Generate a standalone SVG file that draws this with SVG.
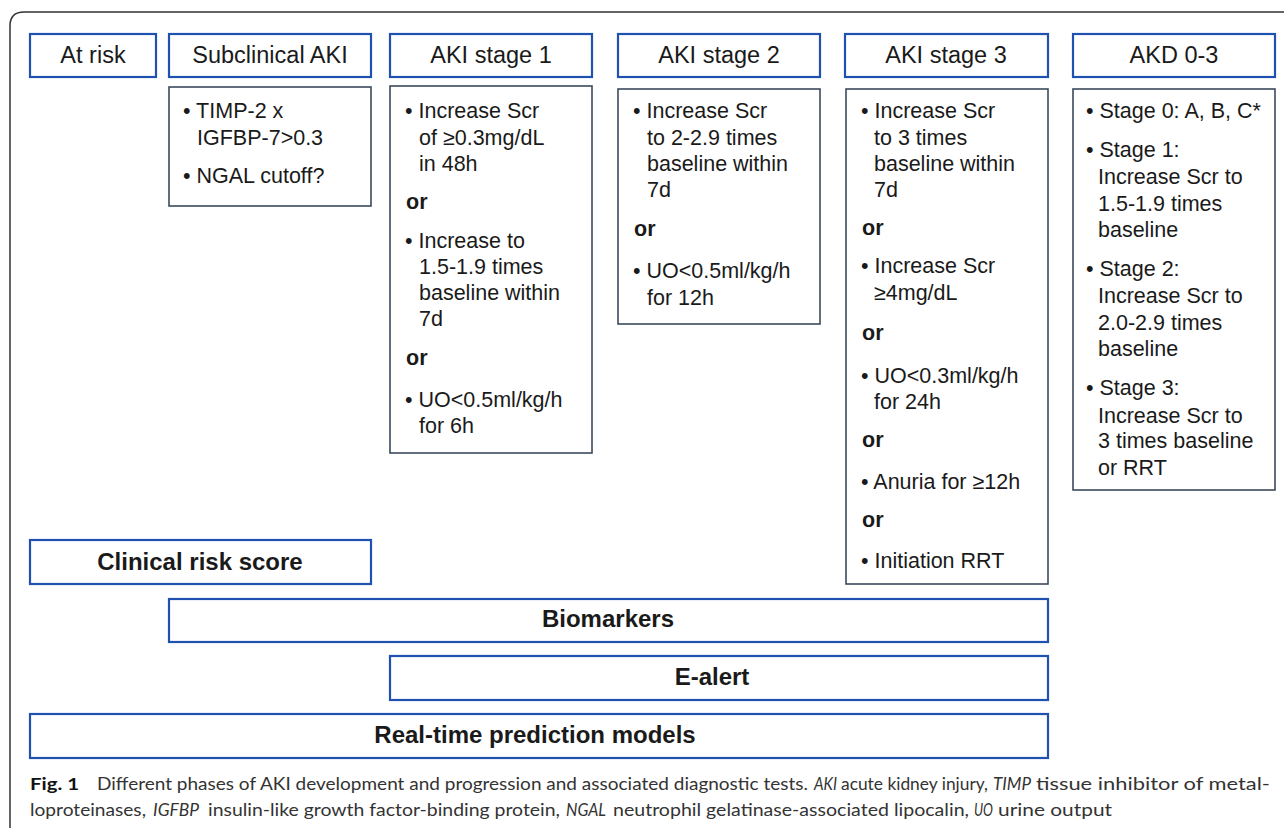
<svg xmlns="http://www.w3.org/2000/svg" width="1284" height="828" viewBox="0 0 1284 828">
<style>
.hdr{fill:#fff;stroke:#1f52b0;stroke-width:2.2}
.box{fill:#fff;stroke:#3b4a5c;stroke-width:1.6}
.bar{fill:#fff;stroke:#1f52b0;stroke-width:2.2}
.ht{font-family:"Liberation Sans",Arial,sans-serif;font-size:23.5px;fill:#1a1a1a;text-anchor:middle}
.t{font-family:"Liberation Sans",Arial,sans-serif;font-size:21.5px;fill:#1a1a1a}
.bt{font-family:"Liberation Sans",Arial,sans-serif;font-size:24px;font-weight:bold;fill:#1a1a1a;text-anchor:middle}
.cap{font-family:Lato,"Noto Sans",sans-serif;font-size:17.5px;fill:#333}
.capb{font-family:Lato,"Noto Sans",sans-serif;font-size:17.5px;fill:#111;font-weight:bold}
.capi{font-family:Lato,"Noto Sans",sans-serif;font-size:17.5px;fill:#333;font-style:italic}
</style>
<rect width="1284" height="828" fill="#fff"/>
<path d="M10,840 L10,26 Q10,12 24,12 L1300,12" fill="none" stroke="#333" stroke-width="1.5"/>

<g id="at-risk"><rect class="hdr" x="30" y="34" width="126" height="43"/><text class="ht" x="93" y="63">At risk</text></g>
<g id="subclinical"><rect class="hdr" x="169" y="34" width="202" height="43"/><text class="ht" x="270" y="63">Subclinical AKI</text>
<rect class="box" x="169" y="87" width="202" height="119"/>
<text class="t"><tspan x="183" y="118">• TIMP-2 x</tspan><tspan x="197" y="145">IGFBP-7&gt;0.3</tspan><tspan x="183" y="183">• NGAL cutoff?</tspan></text></g>

<g id="aki1"><rect class="hdr" x="390" y="34" width="202" height="43"/><text class="ht" x="491" y="63">AKI stage 1</text>
<rect class="box" x="390" y="86" width="202" height="367"/>
<text class="t"><tspan x="405" y="118">• Increase Scr</tspan><tspan x="419" y="145">of ≥0.3mg/dL</tspan><tspan x="419" y="171">in 48h</tspan><tspan x="406" y="209" font-weight="bold">or</tspan><tspan x="405" y="248">• Increase to</tspan><tspan x="419" y="274">1.5-1.9 times</tspan><tspan x="419" y="300">baseline within</tspan><tspan x="419" y="326">7d</tspan><tspan x="406" y="365" font-weight="bold">or</tspan><tspan x="405" y="407">• UO&lt;0.5ml/kg/h</tspan><tspan x="419" y="433">for 6h</tspan></text></g>

<g id="aki2"><rect class="hdr" x="618" y="34" width="202" height="43"/><text class="ht" x="719" y="63">AKI stage 2</text>
<rect class="box" x="618" y="89" width="202" height="235"/>
<text class="t"><tspan x="633" y="118">• Increase Scr</tspan><tspan x="647" y="145">to 2-2.9 times</tspan><tspan x="647" y="171">baseline within</tspan><tspan x="647" y="197">7d</tspan><tspan x="634" y="236" font-weight="bold">or</tspan><tspan x="633" y="278">• UO&lt;0.5ml/kg/h</tspan><tspan x="647" y="305">for 12h</tspan></text></g>

<g id="aki3"><rect class="hdr" x="845" y="34" width="203" height="43"/><text class="ht" x="946" y="63">AKI stage 3</text>
<rect class="box" x="846" y="89" width="202" height="495"/>
<text class="t"><tspan x="861" y="118">• Increase Scr</tspan><tspan x="874" y="145">to 3 times</tspan><tspan x="874" y="171">baseline within</tspan><tspan x="874" y="197">7d</tspan><tspan x="862" y="235" font-weight="bold">or</tspan><tspan x="861" y="273">• Increase Scr</tspan><tspan x="874" y="300">≥4mg/dL</tspan><tspan x="862" y="340" font-weight="bold">or</tspan><tspan x="861" y="383">• UO&lt;0.3ml/kg/h</tspan><tspan x="874" y="409">for 24h</tspan><tspan x="862" y="447" font-weight="bold">or</tspan><tspan x="861" y="489">• Anuria for ≥12h</tspan><tspan x="862" y="527" font-weight="bold">or</tspan><tspan x="861" y="568">• Initiation RRT</tspan></text></g>

<g id="akd"><rect class="hdr" x="1073" y="34" width="202" height="43"/><text class="ht" x="1174" y="63">AKD 0-3</text>
<rect class="box" x="1073" y="89" width="202" height="401"/>
<text class="t"><tspan x="1086" y="118">• Stage 0: A, B, C*</tspan><tspan x="1086" y="157">• Stage 1:</tspan><tspan x="1098" y="184">Increase Scr to</tspan><tspan x="1098" y="211">1.5-1.9 times</tspan><tspan x="1098" y="237">baseline</tspan><tspan x="1086" y="276">• Stage 2:</tspan><tspan x="1098" y="303">Increase Scr to</tspan><tspan x="1098" y="330">2.0-2.9 times</tspan><tspan x="1098" y="356">baseline</tspan><tspan x="1086" y="395">• Stage 3:</tspan><tspan x="1098" y="423">Increase Scr to</tspan><tspan x="1098" y="448">3 times baseline</tspan><tspan x="1098" y="475">or RRT</tspan></text></g>

<g id="clinical-risk-score"><rect class="bar" x="30" y="540" width="341" height="44"/><text class="bt" x="200" y="570">Clinical risk score</text></g>
<g id="biomarkers"><rect class="bar" x="169" y="599" width="879" height="43"/><text class="bt" x="608" y="627">Biomarkers</text></g>
<g id="e-alert"><rect class="bar" x="390" y="656" width="658" height="44"/><text class="bt" x="712" y="685">E-alert</text></g>
<g id="real-time"><rect class="bar" x="30" y="714" width="1018" height="44"/><text class="bt" x="535" y="743">Real-time prediction models</text></g>

<g id="connectors"></g>

<g id="caption">
<text class="capb" x="30" y="790" textLength="49" lengthAdjust="spacingAndGlyphs">Fig. 1</text>
<text class="cap" x="97" y="790" textLength="711" lengthAdjust="spacingAndGlyphs">Different phases of AKI development and progression and associated diagnostic tests.</text>
<text class="capi" x="814" y="790" textLength="23" lengthAdjust="spacingAndGlyphs">AKI</text>
<text class="cap" x="841" y="790" textLength="147" lengthAdjust="spacingAndGlyphs">acute kidney injury,</text>
<text class="capi" x="993" y="790" textLength="38" lengthAdjust="spacingAndGlyphs">TIMP</text>
<text class="cap" x="1036" y="790" textLength="234" lengthAdjust="spacingAndGlyphs">tissue inhibitor of metal-</text>
<text class="cap" x="30" y="816" textLength="116" lengthAdjust="spacingAndGlyphs">loproteinases,</text>
<text class="capi" x="153" y="816" textLength="46" lengthAdjust="spacingAndGlyphs">IGFBP</text>
<text class="cap" x="208" y="816" textLength="352" lengthAdjust="spacingAndGlyphs">insulin-like growth factor-binding protein,</text>
<text class="capi" x="566" y="816" textLength="40" lengthAdjust="spacingAndGlyphs">NGAL</text>
<text class="cap" x="613" y="816" textLength="356" lengthAdjust="spacingAndGlyphs">neutrophil gelatinase-associated lipocalin,</text>
<text class="capi" x="974" y="816" textLength="19" lengthAdjust="spacingAndGlyphs">UO</text>
<text class="cap" x="998" y="816" textLength="114" lengthAdjust="spacingAndGlyphs">urine output</text>
</g>
</svg>
